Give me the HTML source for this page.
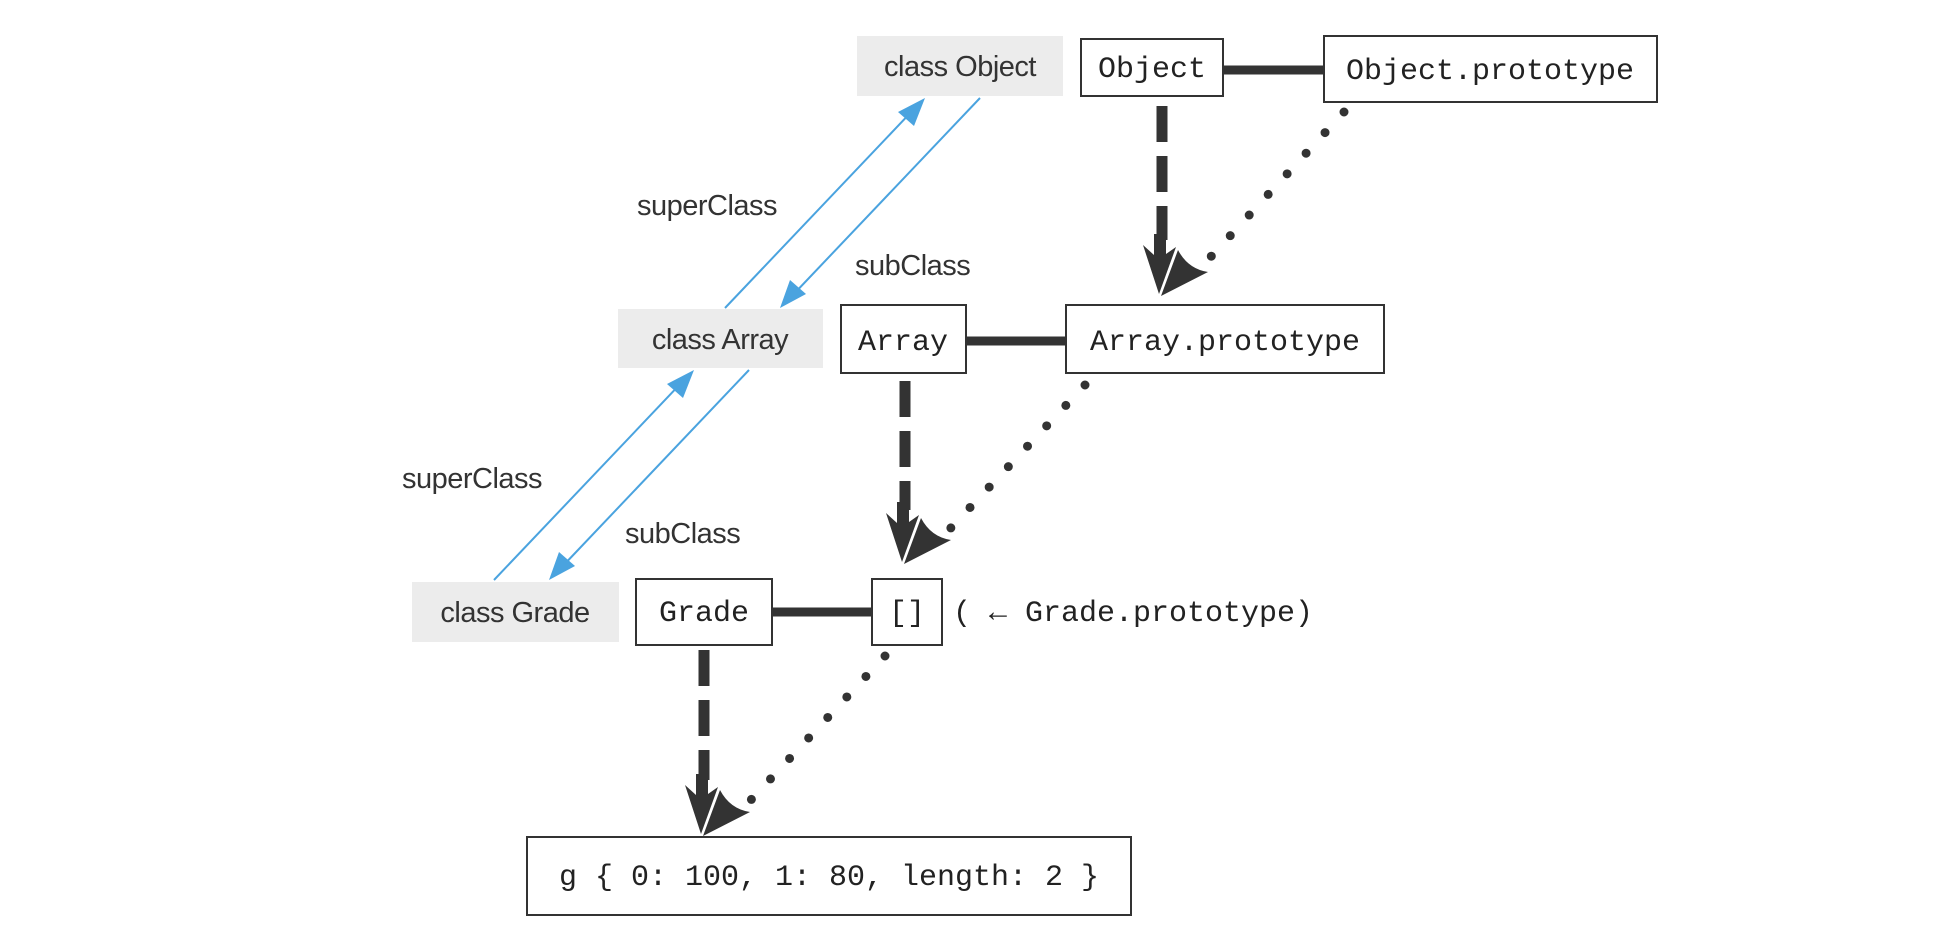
<!DOCTYPE html>
<html><head><meta charset="utf-8"><style>
html,body{margin:0;padding:0;background:#fff;}
svg{display:block}
.m{font-family:"Liberation Mono",monospace;font-size:30px;fill:#222}
.s{font-family:"Liberation Sans",sans-serif;font-size:29px;fill:#333;letter-spacing:-0.5px}
</style></head><body>
<svg width="1944" height="938" viewBox="0 0 1944 938" xmlns="http://www.w3.org/2000/svg">
<defs>
<g id="ah">
<path d="M-17,-49 L-6,-39 L-6,-60 L6,-60 L6,-40 L16,-47 L-1,0 Z" fill="#333"/>
<path d="M18,-44 Q28,-25 48,-22 L1,2 Z" fill="#333"/>
</g>
</defs>
<rect x="857" y="36" width="206" height="60" fill="#ececec"/>
<text class="s" x="960" y="76" text-anchor="middle">class Object</text>
<rect x="618" y="309" width="205" height="59" fill="#ececec"/>
<text class="s" x="720" y="349" text-anchor="middle">class Array</text>
<rect x="412" y="582" width="207" height="60" fill="#ececec"/>
<text class="s" x="515" y="622" text-anchor="middle">class Grade</text>

<g stroke="#4aa3df" stroke-width="2" fill="#4aa3df">
<line x1="725" y1="308" x2="915" y2="108"/>
<polygon points="925,98 898,112 914,126" stroke="none"/>
<line x1="980" y1="98" x2="790" y2="298"/>
<polygon points="780,308 790,280 806,294" stroke="none"/>
<line x1="494" y1="580" x2="684" y2="380"/>
<polygon points="694,370 667,384 683,398" stroke="none"/>
<line x1="749" y1="370" x2="559" y2="570"/>
<polygon points="549,580 559,552 575,566" stroke="none"/>
</g>
<text class="s" x="637" y="215">superClass</text>
<text class="s" x="855" y="275">subClass</text>
<text class="s" x="402" y="488">superClass</text>
<text class="s" x="625" y="543">subClass</text>

<g fill="#fff" stroke="#333" stroke-width="2">
<rect x="1081" y="39" width="142" height="57"/>
<rect x="1324" y="36" width="333" height="66"/>
<rect x="841" y="305" width="125" height="68"/>
<rect x="1066" y="305" width="318" height="68"/>
<rect x="636" y="579" width="136" height="66"/>
<rect x="872" y="579" width="70" height="66"/>
<rect x="527" y="837" width="604" height="78"/>
</g>
<g stroke="#333" stroke-width="9">
<line x1="1223" y1="70" x2="1324" y2="70"/>
<line x1="966" y1="341" x2="1066" y2="341"/>
<line x1="772" y1="612" x2="872" y2="612"/>
</g>
<text class="m" x="1152" y="77" text-anchor="middle">Object</text>
<text class="m" x="1490" y="79" text-anchor="middle">Object.prototype</text>
<text class="m" x="903" y="350" text-anchor="middle">Array</text>
<text class="m" x="1225" y="350" text-anchor="middle">Array.prototype</text>
<text class="m" x="704" y="621" text-anchor="middle">Grade</text>
<text class="m" x="907" y="621" text-anchor="middle">[]</text>
<text class="m" x="953" y="621">( ← Grade.prototype)</text>
<text class="m" x="829" y="885" text-anchor="middle">g { 0: 100, 1: 80, length: 2 }</text>

<g stroke="#333" stroke-width="11" stroke-dasharray="36,14">
<line x1="1162" y1="106" x2="1162" y2="240"/>
<line x1="905" y1="381" x2="905" y2="510"/>
<line x1="704" y1="650" x2="704" y2="780"/>
</g>
<g stroke="#333" stroke-width="9" stroke-linecap="round" stroke-dasharray="0,28">
<line x1="1344" y1="112" x2="1206" y2="262"/>
<line x1="1085" y1="385" x2="947" y2="532"/>
<line x1="885" y1="656" x2="749" y2="802"/>
</g>
<use href="#ah" x="1160" y="294"/>
<use href="#ah" x="903" y="562"/>
<use href="#ah" x="702" y="834"/>
</svg>
</body></html>
